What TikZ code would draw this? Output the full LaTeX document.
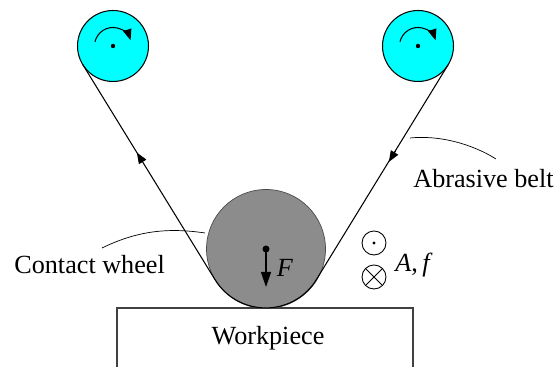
\documentclass[tikz,border=0pt]{standalone}
\usepackage{fontspec}
\setmainfont{Liberation Serif}
\usetikzlibrary{arrows.meta, calc}
\definecolor{pulleyCyan}{HTML}{00FFFF}
\definecolor{wheelGray}{HTML}{8C8C8C}
\tikzset{
  pulley/.style={draw=black, line width=0.6pt, fill=pulleyCyan, circle, minimum size=1.42cm, inner sep=0pt, outer sep=0pt},
  wheel/.style={draw=black!70, line width=0.4pt, fill=wheelGray, circle, minimum size=2.38cm, inner sep=0pt, outer sep=0pt},
  symb/.style={draw=black, line width=0.5pt, fill=white, circle, minimum size=0.48cm, inner sep=0pt, outer sep=0pt},
  lbl/.style={font=\fontsize{14.9pt}{17pt}\selectfont, inner sep=0pt},
  belt/.style={line width=0.6pt},
  leader/.style={line width=0.4pt},
  arrow/.style={-{Stealth[length=2.2mm, width=1.7mm, inset=0pt]}, line width=0.6pt},
}
\begin{document}
\begin{tikzpicture}[x=0.02cm, y=0.02cm]
\useasboundingbox (0,0) rectangle (555,367);
% workpiece, open at the bottom
\draw[line width=0.6pt, draw=black!75] (117,0) -- (117,59) -- (413,59) -- (413,0);
\node[lbl] (work) at (268,29) {Workpiece};
% pulleys and contact wheel
\node[pulley] (pulleyL) at (113,321) {};
\node[pulley] (pulleyR) at (418,321) {};
\node[wheel] (contact) at (266,118) {};
% belt
\draw[belt] (pulleyL.211.6) -- (contact.211.6) arc (211.6:328.4:59.5) -- (pulleyR.328.4);
\draw[arrow] ($(contact.211.6)!0.55!(pulleyL.211.6)$) -- ($(contact.211.6)!0.59!(pulleyL.211.6)$);
\draw[arrow] ($(pulleyR.328.4)!0.40!(contact.328.4)$) -- ($(pulleyR.328.4)!0.45!(contact.328.4)$);
% rotation marks
\foreach \p in {pulleyL, pulleyR}{
  \fill[black] (\p.center) circle (2.2);
  \draw[arrow] (\p.center) ++(167:18.5) arc (167:18:18.5);
}
% force
\fill[black] (contact.center) circle (3.5);
\coordinate (forceEnd) at (266,80);
\draw[-{Stealth[length=3mm, width=2mm, inset=0pt]}, line width=0.8pt] (contact.center) -- (forceEnd);
\node[lbl] (force) at (285,99) {\textit{F}};
% direction symbols
\node[symb] (dotSym) at (374,124) {};
\fill[black] (dotSym.center) circle (1.6);
\node[symb] (crossSym) at (374,90) {};
\draw[line width=0.5pt] (crossSym.45) -- (crossSym.225) (crossSym.135) -- (crossSym.315);
\node[lbl, anchor=west] (feed) at (395,102) {\textit{A},\,\textit{f}};
% labels with leaders
\node[lbl, anchor=east] (beltLbl) at (554,188) {Abrasive belt};
\node[lbl, anchor=west] (wheelLbl) at (14,102) {Contact wheel};
\coordinate (beltLead) at (410,229);
\coordinate (wheelLead) at (205,134);
\draw[leader] (beltLead) .. controls (440,232) and (472,223) .. (496,208);
\draw[leader] (wheelLead) .. controls (165,140) and (135,135) .. (102,119);
\end{tikzpicture}
\end{document}
